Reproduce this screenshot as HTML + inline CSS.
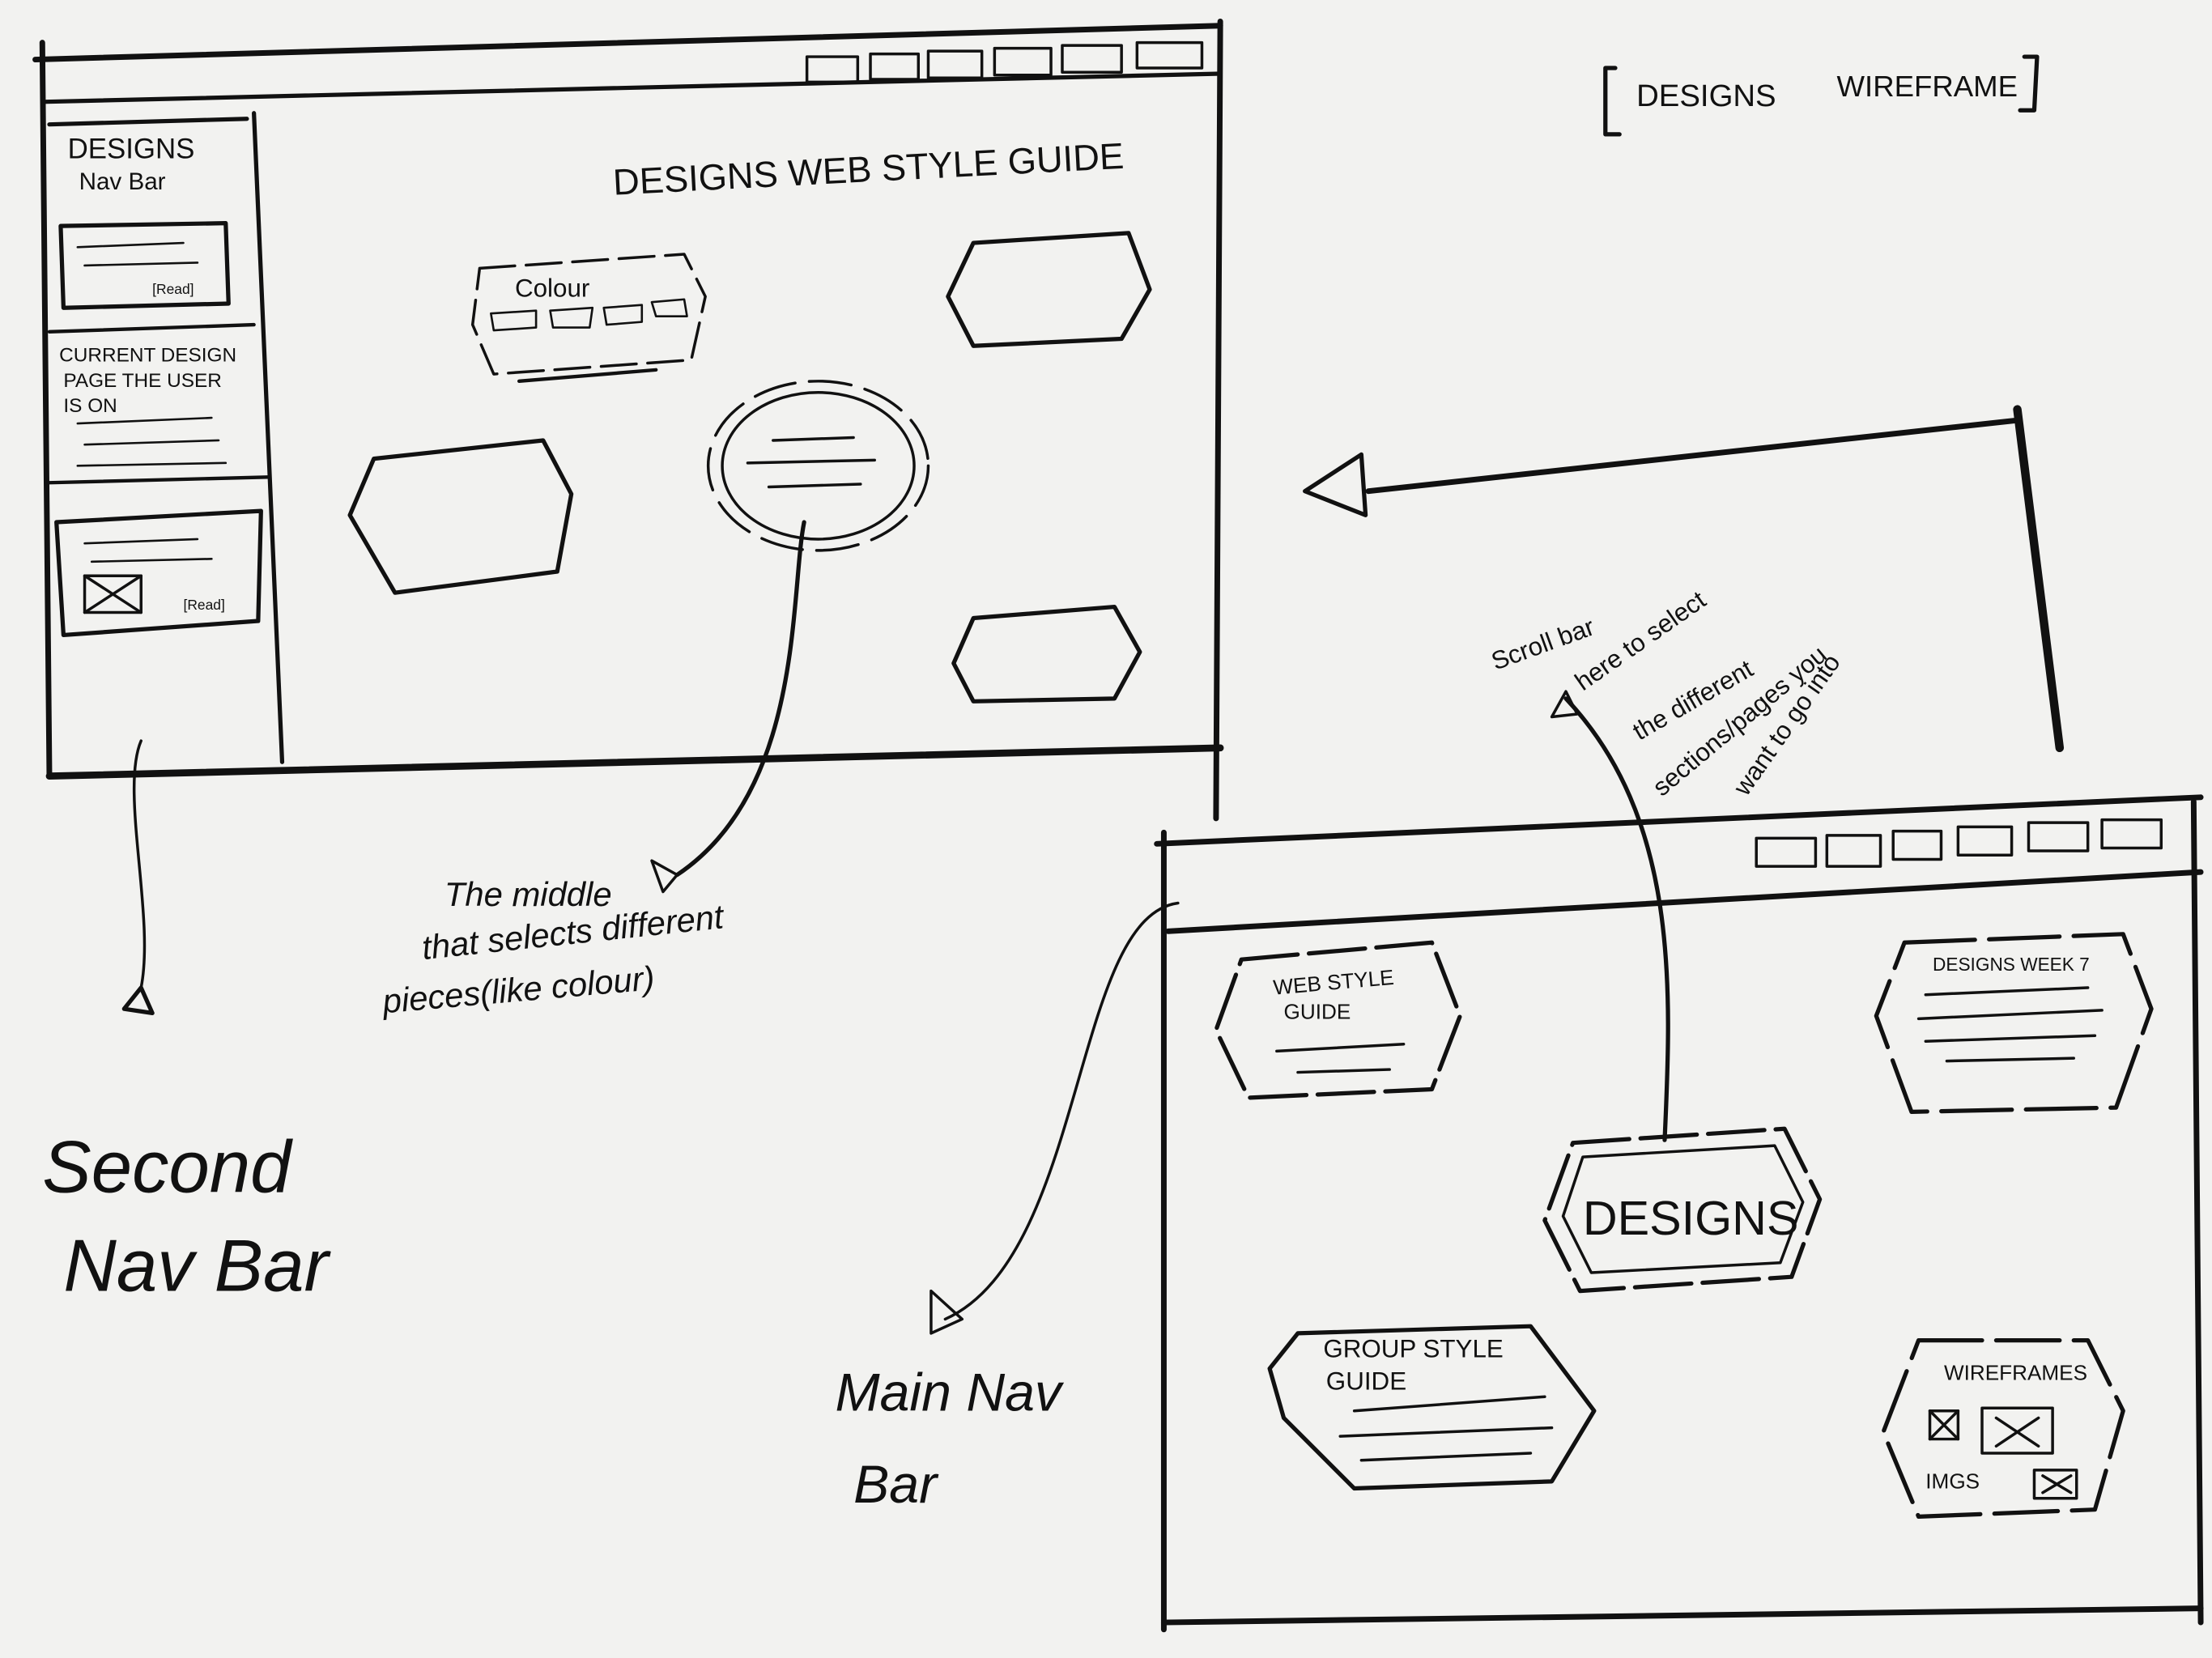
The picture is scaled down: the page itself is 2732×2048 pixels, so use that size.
<!DOCTYPE html>
<html><head><meta charset="utf-8"><style>
html,body{margin:0;padding:0;background:#f2f2f0;}
svg{display:block}
text{font-family:"Liberation Sans",sans-serif;fill:#111}
</style></head><body>
<svg width="2732" height="2048" viewBox="0 0 1568 1175" xmlns="http://www.w3.org/2000/svg">
<rect width="1568" height="1175" fill="#f2f2f0"/>
<g fill="none" stroke="#111" stroke-linecap="round" stroke-linejoin="round">
<path d="M25 42 L865 18" stroke-width="4"/>
<path d="M30 72 L865 52" stroke-width="3"/>
<path d="M30 30 L35 550" stroke-width="4"/>
<path d="M865 15 L862 580" stroke-width="4"/>
<path d="M35 550 L865 530" stroke-width="5"/>
<path d="M180 80 L200 540" stroke-width="3"/>
<g stroke-width="2">
<rect x="572" y="40" width="36" height="18"/><rect x="617" y="38" width="34" height="18"/><rect x="658" y="36" width="38" height="19"/><rect x="705" y="34" width="40" height="19"/><rect x="753" y="32" width="42" height="19"/><rect x="806" y="30" width="46" height="18"/>
</g>
<path d="M35 88 L175 84" stroke-width="3"/>
<path d="M43 160 L160 158 L162 215 L45 218 Z" stroke-width="3"/>
<path d="M55 175 L130 172 M60 188 L140 186" stroke-width="1.5"/>
<path d="M35 235 L180 230 M35 342 L190 338" stroke-width="2.5"/>
<path d="M55 300 L150 296 M60 315 L155 312 M55 330 L160 328" stroke-width="1.5"/>
<path d="M40 370 L185 362 L183 440 L45 450 Z" stroke-width="3"/>
<rect x="60" y="408" width="40" height="26" stroke-width="2"/>
<path d="M60 408 L100 434 M100 408 L60 434" stroke-width="2"/>
<path d="M60 385 L140 382 M65 398 L150 396" stroke-width="1.5"/>
<path d="M340 190 L485 180 L500 210 L490 255 L350 265 L335 230 Z" stroke-width="2" stroke-dasharray="25 8"/>
<path d="M348 222 L380 220 L380 232 L350 234 Z M390 220 L420 218 L418 232 L392 232 Z M428 218 L455 216 L455 228 L430 230 Z M462 214 L485 212 L487 224 L465 224 Z" stroke-width="1.5"/>
<path d="M368 270 L465 262" stroke-width="2.5"/>
<path d="M690 172 L800 165 L815 205 L795 240 L690 245 L672 210 Z" stroke-width="3"/>
<path d="M265 325 L385 312 L405 350 L395 405 L280 420 L248 365 Z" stroke-width="3"/>
<path d="M690 438 L790 430 L808 462 L790 495 L690 497 L676 470 Z" stroke-width="3"/>
<ellipse cx="580" cy="330" rx="78" ry="60" stroke-width="2" stroke-dasharray="30 10"/>
<ellipse cx="580" cy="330" rx="68" ry="52" stroke-width="2"/>
<path d="M548 312 L605 310 M530 328 L620 326 M545 345 L610 343" stroke-width="2"/>
<path d="M570 370 C560 420 570 560 480 620" stroke-width="3"/>
<path d="M480 620 L462 610 L470 632 Z" stroke-width="2"/>
<path d="M100 525 C85 560 110 650 100 700" stroke-width="2"/>
<path d="M100 700 L88 715 L108 718 Z" stroke-width="3"/>
<path d="M1428 298 L970 348" stroke-width="4"/>
<path d="M965 322 L925 348 L968 365 Z" stroke-width="3"/>
<path d="M1430 290 L1460 530" stroke-width="6"/>
<path d="M1180 808 C1185 700 1190 580 1110 495" stroke-width="3"/>
<path d="M1100 508 L1110 490 L1118 506 Z" stroke-width="2"/>
<path d="M835 640 C760 650 770 890 670 935" stroke-width="2"/>
<path d="M660 945 L660 915 L682 935 Z" stroke-width="2"/>
<path d="M820 598 L1560 565" stroke-width="4"/>
<path d="M828 660 L1560 618" stroke-width="4"/>
<path d="M825 590 L825 1155" stroke-width="4"/>
<path d="M1555 568 L1560 1150" stroke-width="4"/>
<path d="M825 1150 L1560 1140" stroke-width="4"/>
<g stroke-width="2">
<rect x="1245" y="594" width="42" height="20"/><rect x="1295" y="592" width="38" height="22"/><rect x="1342" y="589" width="34" height="20"/><rect x="1388" y="586" width="38" height="20"/><rect x="1438" y="583" width="42" height="20"/><rect x="1490" y="581" width="42" height="20"/>
</g>
<path d="M880 680 L1015 668 L1035 720 L1015 772 L885 778 L862 730 Z" stroke-width="3" stroke-dasharray="40 8"/>
<path d="M905 745 L995 740 M920 760 L985 758" stroke-width="2"/>
<path d="M1350 668 L1505 662 L1525 715 L1500 785 L1355 788 L1330 720 Z" stroke-width="3" stroke-dasharray="50 10"/>
<path d="M1365 705 L1480 700 M1360 722 L1490 716 M1365 738 L1485 734 M1380 752 L1470 750" stroke-width="2"/>
<path d="M1115 810 L1265 800 L1290 850 L1270 905 L1120 915 L1095 865 Z" stroke-width="3" stroke-dasharray="40 8"/>
<path d="M1122 820 L1258 812 L1278 852 L1262 895 L1128 902 L1108 862 Z" stroke-width="2"/>
<path d="M920 945 L1085 940 L1130 1000 L1100 1050 L960 1055 L910 1005 L900 970 Z" stroke-width="3"/>
<path d="M960 1000 L1095 990 M950 1018 L1100 1012 M965 1035 L1085 1030" stroke-width="2"/>
<path d="M1360 950 L1480 950 L1505 1000 L1485 1070 L1360 1075 L1335 1015 Z" stroke-width="3" stroke-dasharray="45 10"/>
<rect x="1368" y="1000" width="20" height="20" stroke-width="2"/><path d="M1368 1000 L1388 1020 M1388 1000 L1368 1020" stroke-width="2"/>
<rect x="1405" y="998" width="50" height="32" stroke-width="2"/><path d="M1415 1005 L1445 1025 M1445 1005 L1415 1025" stroke-width="2"/>
<rect x="1442" y="1042" width="30" height="20" stroke-width="2"/><path d="M1448 1046 L1468 1058 M1468 1046 L1448 1058" stroke-width="2"/>
<path d="M1145 48 L1138 48 L1138 95 L1148 95" stroke-width="3"/>
<path d="M1435 40 L1444 40 L1442 78 L1432 78" stroke-width="3"/>
</g>
<g font-size="22">
<text x="1160" y="75" font-size="22">DESIGNS</text>
<text x="1302" y="68" font-size="21">WIREFRAME</text>
<text x="435" y="138" font-size="26" transform="rotate(-3 435 138)">DESIGNS  WEB STYLE GUIDE</text>
<text x="48" y="112" font-size="20">DESIGNS</text>
<text x="56" y="134" font-size="17">Nav Bar</text>
<text x="108" y="208" font-size="10">[Read]</text>
<text x="130" y="432" font-size="10">[Read]</text>
<text x="42" y="256" font-size="14">CURRENT DESIGN</text>
<text x="45" y="274" font-size="14">PAGE THE USER</text>
<text x="45" y="292" font-size="14">IS ON</text>
<text x="365" y="210" font-size="18">Colour</text>
<text x="315" y="642" font-size="24" font-style="italic">The  middle</text>
<text x="300" y="680" font-size="24" font-style="italic" transform="rotate(-6 300 680)">that selects different</text>
<text x="272" y="718" font-size="24" font-style="italic" transform="rotate(-5 272 718)">pieces(like colour)</text>
<text x="30" y="845" font-size="52" font-style="italic">Second</text>
<text x="45" y="915" font-size="52" font-style="italic">Nav Bar</text>
<text x="592" y="1000" font-size="38" font-style="italic">Main Nav</text>
<text x="605" y="1065" font-size="38" font-style="italic">Bar</text>
<text x="1060" y="475" font-size="18" transform="rotate(-20 1060 475)">Scroll bar</text>
<text x="1122" y="490" font-size="18" transform="rotate(-35 1122 490)">here to select</text>
<text x="1162" y="525" font-size="18" transform="rotate(-30 1162 525)">the different</text>
<text x="1178" y="565" font-size="18" transform="rotate(-40 1178 565)">sections/pages you</text>
<text x="1238" y="565" font-size="18" transform="rotate(-55 1238 565)">want to go into</text>
<text x="903" y="705" font-size="15" transform="rotate(-5 903 705)">WEB STYLE</text>
<text x="910" y="722" font-size="15">GUIDE</text>
<text x="1370" y="688" font-size="13">DESIGNS WEEK 7</text>
<text x="1122" y="875" font-size="34">DESIGNS</text>
<text x="938" y="962" font-size="18">GROUP STYLE</text>
<text x="940" y="985" font-size="18">GUIDE</text>
<text x="1378" y="978" font-size="15">WIREFRAMES</text>
<text x="1365" y="1055" font-size="15">IMGS</text>
</g>
</svg>
</body></html>
